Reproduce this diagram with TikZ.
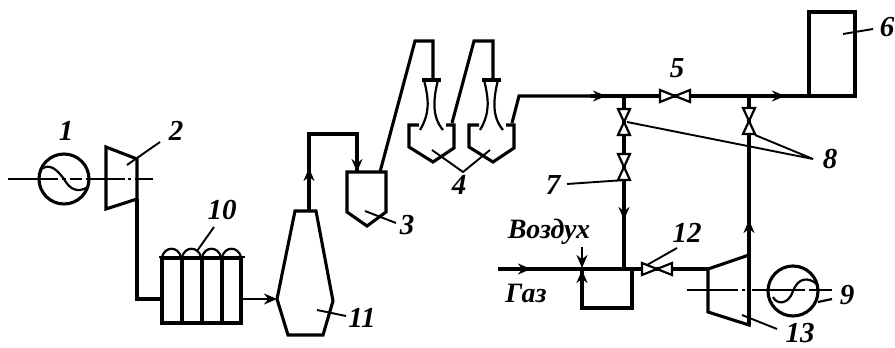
\documentclass[tikz,border=0pt]{standalone}
\usepackage{fontspec}
\setmainfont{Liberation Serif}
\usetikzlibrary{arrows.meta}
\tikzset{
	pipe/.style={line width=3.1pt, line join=miter},
	flow/.style={pipe, -{Stealth[length=13pt,width=11pt]}},
	thin line/.style={line width=2.2pt},
	leader/.style={line width=1.9pt},
	axisline/.style={line width=1.8pt},
	num/.style={font=\fontsize{29}{29}\selectfont\itshape\bfseries, inner sep=0pt},
	word/.style={font=\fontsize{28}{28}\selectfont\itshape\bfseries, inner sep=0pt},
	vvalve/.pic={
		\draw[line width=2.2pt, fill=white] (-6,-13) -- (6,-13) -- (0,0) -- (-6,13) -- (6,13) -- (0,0) -- cycle;
	},
	hvalve/.pic={
		\draw[line width=2.2pt, fill=white] (-15,-6) -- (-15,6) -- (0,0) -- (15,6) -- (15,-6) -- (0,0) -- cycle;
	},
	cyclone/.pic={
		\draw[pipe] (-11,-45) -- (8,-45);
		\draw[thin line] (-9,-45) .. controls (-4,-25) and (-3,-12) .. (-13,5);
		\draw[thin line] (5,-45) .. controls (0,-25) and (-1,-8) .. (10,5);
		\draw[pipe] (-14,0) -- (-24,0) -- (-24,22) -- (0,37) -- (21,23) -- (21,0) -- (13,0);
	}
}
\begin{document}
\begin{tikzpicture}[x=1pt, y=-1pt]
	\useasboundingbox (0,0) rectangle (895,348);
	%Points of the pipes
	\coordinate (C2a) at (106,147);
	\coordinate (C2b) at (137,159);
	\coordinate (C2c) at (137,199);
	\coordinate (C2d) at (106,209);
	\coordinate (B10) at (162,299);
	\coordinate (B10out) at (241,299);
	\coordinate (V11) at (277,299);
	\coordinate (C3in) at (357,172);
	\coordinate (C3out) at (380,172);
	\coordinate (T4a) at (433,80);
	\coordinate (T4b) at (493,80);
	\coordinate (O4) at (512,123);
	\coordinate (J8a) at (624,96);
	\coordinate (J8b) at (749,96);
	\coordinate (R6) at (809,96);
	\coordinate (M7) at (624,269);
	\coordinate (Ma) at (582,269);
	\coordinate (Mb) at (632,269);
	\coordinate (C13a) at (708,269);
	\coordinate (C13b) at (749,255);
	\coordinate (C13c) at (749,325);
	\coordinate (C13d) at (708,312);
	\coordinate (G1) at (64,179);
	\coordinate (G9) at (793,291);
	%Generator and compressor on the left
	\draw[pipe] (G1) circle (25);
	\draw[thin line] (40,170) .. controls (50,162) and (57,170) .. (G1) .. controls (70,190) and (78,193) .. (88,187);
	\draw[axisline] (8,179) -- (58,179) (62,179) -- (66,179) (70,179) -- (82,179) (86,179) -- (125,179) (128,179) -- (131,179) (135,179) -- (153,179);
	\draw[pipe] (C2a) -- (C2b) -- (C2c) -- (C2d) -- cycle;
	\draw[pipe] (C2c) -- (137,299) -- (B10);
	%Battery 10
	\draw[pipe] (162,258) rectangle (241,323);
	\draw[pipe] (182,258) -- (182,323);
	\draw[pipe] (202,258) -- (202,323);
	\draw[pipe] (222,258) -- (222,323);
	\draw[thin line] (159,257) -- (245,257);
	\foreach \x in {162,182,202,222}
		\draw[thin line] (\x,257) .. controls (\x+3,246) and (\x+16,246) .. (\x+19,257);
	\draw[flow, line width=2.2pt] (B10out) -- (V11);
	%Vessel 11
	\draw[pipe] (V11) -- (295,211) -- (316,211) -- (333,301) -- (323,335) -- (288,335) -- cycle;
	\draw[flow] (309,211) -- (309,168);
	\draw[pipe] (309,172) -- (309,134) -- (357,134) -- (C3in);
	\draw[flow] (357,145) -- (C3in);
	%Cyclones 3 and 4
	\draw[pipe] (347,172) -- (386,172) -- (386,212) -- (367,226) -- (347,212) -- cycle;
	\draw[pipe] (C3out) -- (415,41) -- (433,41) -- (T4a);
	\pic at (433,125) {cyclone};
	\pic at (493,125) {cyclone};
	\draw[pipe] (452,123) -- (474,41) -- (493,41) -- (T4b);
	\draw[pipe] (O4) -- (519,96) -- (600,96);
	%Main line
	\draw[flow] (590,96) -- (606,96);
	\draw[pipe] (600,96) -- (R6);
	\draw[flow] (765,96) -- (785,96);
	\draw[pipe] (R6) rectangle (855,12);
	\draw[pipe] (J8a) -- (624,180);
	\draw[flow] (624,180) -- (624,220);
	\draw[pipe] (624,215) -- (M7);
	\draw[pipe] (J8b) -- (C13c);
	\draw[flow] (749,255) -- (749,220);
	\pic at (675,96) {hvalve};
	\pic at (624,122) {vvalve};
	\pic at (624,167) {vvalve};
	\pic at (749,121) {vvalve};
	%Mixer and right compressor
	\draw[pipe] (498,269) -- (Ma) -- (Mb) -- (C13a);
	\draw[flow] (500,269) -- (531,269);
	\draw[pipe] (Ma) rectangle (632,308);
	\draw[flow, line width=2.2pt] (582,247) -- (582,268);
	\draw[flow, line width=2.2pt] (582,292) -- (582,270);
	\pic at (657,269) {hvalve};
	\draw[pipe] (C13a) -- (C13b) -- (C13c) -- (C13d) -- cycle;
	\draw[axisline] (687,290) -- (738,290) (742,290) -- (745,290) (752,290) -- (805,290) (809,290) -- (832,290);
	\draw[pipe] (G9) circle (25);
	\draw[thin line] (773,297) .. controls (776,304) and (788,306) .. (G9) .. controls (798,278) and (808,276) .. (818,285);
	\draw[thin line] (818,302) -- (832,299);
	%Leaders
	\draw[leader] (127,165) -- (160,142);
	\draw[leader] (197,251) -- (214,227);
	\draw[leader] (365,211) -- (396,223);
	\draw[leader] (432,150) -- (463,172) -- (490,150);
	\draw[leader] (843,34) -- (873,29);
	\draw[leader] (627,122) -- (813,159) -- (755,135);
	\draw[leader] (567,184) -- (625,180);
	\draw[leader] (647,265) -- (677,248);
	\draw[leader] (742,315) -- (777,329);
	\draw[leader] (317,310) -- (346,316);
	%Labels
	\node[num] (L1) at (66,131) {1};
	\node[num] (L2) at (176,131) {2};
	\node[num] (L3) at (407,225) {3};
	\node[num] (L4) at (459,185) {4};
	\node[num] (L5) at (677,68) {5};
	\node[num] (L6) at (887,27) {6};
	\node[num] (L7) at (553,185) {7};
	\node[num] (L8) at (830,159) {8};
	\node[num] (L9) at (847,295) {9};
	\node[num] (L10) at (222,210) {10};
	\node[num] (L11) at (362,318) {11};
	\node[num] (L12) at (687,233) {12};
	\node[num] (L13) at (800,333) {13};
	\node[word] (air) at (549,232) {Воздух};
	\node[word] (gas) at (526,293) {Газ};
\end{tikzpicture}
\end{document}
